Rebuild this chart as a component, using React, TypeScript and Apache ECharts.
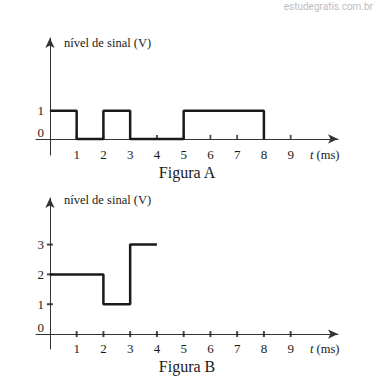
import React, { useEffect, useRef } from "react";
import * as echarts from "echarts";

// Figure A: digital signal (times where level changes, and the level after it)
const timesA = [0, 1, 2, 3, 5, 8];
const levelsA = [1, 0, 1, 0, 1, 0];
// Figure B: multi-level signal
const timesB = [0, 2, 3, 4];
const levelsB = [2, 1, 3, 3];

const xTicks = [1, 2, 3, 4, 5, 6, 7, 8, 9];
const yTicksA = [0, 1];
const yTicksB = [0, 1, 2, 3];
const yMarksB = [1, 2, 3];

const yName = "nível de sinal (V)";
const titleA = "Figura A";
const titleB = "Figura B";
const watermark = "estudegratis.com.br";

const SERIF = "Liberation Serif";
const INK = "#1a1a1a";

export default function App() {
  const ref = useRef<HTMLDivElement>(null);
  useEffect(() => {
    if (!ref.current) return;
    const chart = echarts.init(ref.current, null, { renderer: "svg" });
    const xAxisBase = (gridIndex: number) => ({
      type: "value",
      gridIndex,
      min: -0.52,
      max: 10.77,
      splitLine: { show: false },
      axisLine: {
        show: true,
        onZero: true,
        symbol: ["none", "arrow"],
        symbolSize: [7, 10],
        lineStyle: { color: "#333", width: 1 },
      },
      axisTick: { show: false },
      axisLabel: {
        customValues: xTicks,
        formatter: (v: number) => String(v),
        fontFamily: SERIF,
        fontSize: 13,
        color: INK,
        margin: -7,
      },
    });
    const yAxisBase = (gridIndex: number, min: number, max: number, ticks: number[], zeroPad: number) => ({
      type: "value",
      gridIndex,
      min,
      max,
      splitLine: { show: false },
      axisLine: {
        show: true,
        onZero: true,
        symbol: ["none", "arrow"],
        symbolSize: [7, 10],
        lineStyle: { color: "#333", width: 1 },
      },
      axisTick: { show: false },
      axisLabel: {
        customValues: ticks,
        formatter: (v: number) => (v === 0 ? "{z|0}" : String(v)),
        fontFamily: SERIF,
        fontSize: 13,
        color: INK,
        margin: -8,
        rich: {
          z: { fontFamily: SERIF, fontSize: 13, color: INK, padding: [0, 0, zeroPad, 0] },
        },
      },
    });
    const option = {
      animation: false,
      grid: [
        { left: 36, right: 40, top: 38, height: 117 },
        { left: 36, right: 40, top: 198, height: 151 },
      ],
      xAxis: [xAxisBase(0), xAxisBase(1)],
      yAxis: [
        yAxisBase(0, -0.57, 3.57, yTicksA, 12),
        yAxisBase(1, -0.5, 4.56, yTicksB, 14),
      ],
      series: [
        {
          type: "scatter",
          xAxisIndex: 0,
          yAxisIndex: 0,
          symbol: "rect",
          symbolSize: [1.8, 4],
          symbolOffset: [0, -2],
          itemStyle: { color: INK },
          silent: true,
          data: xTicks.map((t) => [t, 0]),
        },
        {
          type: "line",
          xAxisIndex: 0,
          yAxisIndex: 0,
          step: "end",
          symbol: "none",
          lineStyle: { color: INK, width: 2.5 },
          data: timesA.map((t, i) => [t, levelsA[i]]),
        },
        {
          type: "scatter",
          xAxisIndex: 1,
          yAxisIndex: 1,
          symbol: "rect",
          symbolSize: [2, 6],
          itemStyle: { color: INK },
          silent: true,
          data: xTicks.map((t) => [t, 0]),
        },
        {
          type: "scatter",
          xAxisIndex: 1,
          yAxisIndex: 1,
          symbol: "rect",
          symbolSize: [6, 2],
          itemStyle: { color: INK },
          silent: true,
          data: yMarksB.map((v) => [0, v]),
        },
        {
          type: "line",
          xAxisIndex: 1,
          yAxisIndex: 1,
          step: "end",
          symbol: "none",
          lineStyle: { color: INK, width: 2.5 },
          data: timesB.map((t, i) => [t, levelsB[i]]),
        },
      ],
      graphic: [
        {
          type: "text",
          right: 5,
          top: 1,
          style: { text: watermark, fill: "#bdbdbd", font: "10px Roboto" },
        },
        {
          type: "text",
          x: 64,
          y: 43,
          style: { text: yName, fill: INK, font: `12.5px '${SERIF}'`, textVerticalAlign: "middle" },
        },
        {
          type: "text",
          x: 64,
          y: 200,
          style: { text: yName, fill: INK, font: `12.5px '${SERIF}'`, textVerticalAlign: "middle" },
        },
        {
          type: "text",
          x: 310,
          y: 155,
          style: {
            text: "{i|t} (ms)",
            fill: INK,
            font: `12.5px '${SERIF}'`,
            textVerticalAlign: "middle",
            rich: { i: { fontStyle: "italic", fontFamily: SERIF, fontSize: 12.5, fill: INK } },
          },
        },
        {
          type: "text",
          x: 310,
          y: 349,
          style: {
            text: "{i|t} (ms)",
            fill: INK,
            font: `12.5px '${SERIF}'`,
            textVerticalAlign: "middle",
            rich: { i: { fontStyle: "italic", fontFamily: SERIF, fontSize: 12.5, fill: INK } },
          },
        },
        {
          type: "text",
          x: 187,
          y: 172,
          style: { text: titleA, fill: INK, font: `16px '${SERIF}'`, textAlign: "center", textVerticalAlign: "middle" },
        },
        {
          type: "text",
          x: 187,
          y: 366,
          style: { text: titleB, fill: INK, font: `16px '${SERIF}'`, textAlign: "center", textVerticalAlign: "middle" },
        },
      ],
    };
    chart.setOption(option as any);
    return () => chart.dispose();
  }, []);
  return <div ref={ref} style={{ width: 378, height: 388, position: "absolute", left: 0, top: 0 }} />;
}
